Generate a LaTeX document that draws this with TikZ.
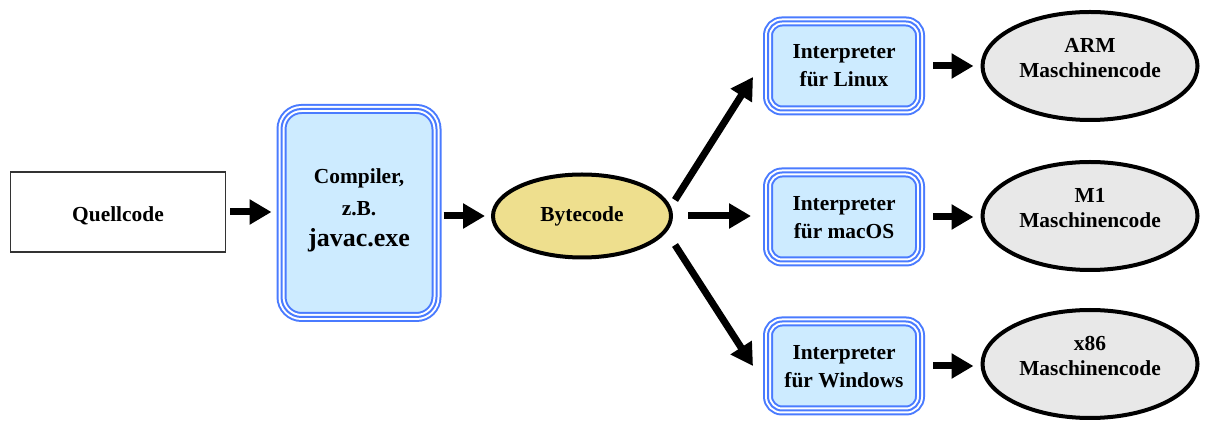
\documentclass[tikz,border=0pt]{standalone}
\usepackage{fontspec}
\setmainfont{Liberation Serif}
\usetikzlibrary{arrows.meta}
\usetikzlibrary{shapes.geometric}

\definecolor{hellblau}{HTML}{CDEBFF}
\definecolor{randblau}{HTML}{4A7BFF}
\definecolor{sandgelb}{HTML}{EEDF8E}
\definecolor{hellgrau}{HTML}{E8E8E8}

\begin{document}
\begin{tikzpicture}[%
x=.5pt, y=-.5pt,
font=\fontsize{10.7}{12.5}\selectfont\bfseries,
quelle/.style={draw=black!80, line width=.7pt, text height=11pt, minimum width=107.5pt, minimum height=40pt},
kasten/.style={align=center, inner sep=0pt,
  preaction={fill=hellblau, draw=randblau, line width=5pt},
  preaction={draw=white, line width=3pt},
  draw=randblau, line width=1pt},
compiler/.style={kasten, rounded corners=10pt, minimum width=77.5pt, minimum height=104pt},
interpreter/.style={kasten, rounded corners=7pt, text depth=0pt, minimum width=76pt, minimum height=44.5pt},
bytecode/.style={ellipse, draw=black, line width=2pt, fill=sandgelb, inner sep=0pt,
  minimum width=89pt, minimum height=41.5pt},
maschine/.style={ellipse, draw=black, line width=2pt, fill=hellgrau, inner sep=0pt, align=center,
  text depth=8pt, minimum width=107.5pt, minimum height=54pt},
pfeil/.style={-{Triangle[length=11pt,width=12pt]}, line width=3.5pt},
]

\useasboundingbox (0,0) rectangle (1208,421);

% Quelle und Compiler
\node[quelle](quellcode) at (118,212){Quellcode};
\node[compiler, text depth=5pt](javac) at (359,213){Compiler,\\[3.5pt] z.B.\\[3pt] {\fontsize{13}{15}\selectfont javac.exe}};
\node[bytecode](bc) at (582,216){Bytecode};

% Interpreter
\node[interpreter](linux)   at (844,66) {Interpreter\\[1.5pt] für Linux};
\node[interpreter](macos)   at (844,217){Interpreter\\[1.5pt] für macOS};
\node[interpreter](windows) at (844,366){Interpreter\\[1.5pt] für Windows};

% Maschinencode
\node[maschine](arm) at (1090,66) {ARM\\ Maschinencode};
\node[maschine](m1)  at (1090,216){M1\\ Maschinencode};
\node[maschine](x86) at (1090,364){x86\\ Maschinencode};

\draw[pfeil, shorten <=2pt, shorten >=4.5pt] (quellcode.east) -- (quellcode.east -| javac.west);
\draw[pfeil, shorten <=3pt, shorten >=3pt] (javac.east |- bc.west) -- (bc.west);

\draw[pfeil] ([xshift=1pt,yshift=8pt]bc.east) -- ([xshift=-7pt,yshift=-5.5pt]linux.west);
\draw[pfeil, shorten <=7.5pt, shorten >=8pt] (bc.east) -- (bc.east -| macos.west);
\draw[pfeil] ([xshift=1pt,yshift=-14.5pt]bc.east) -- ([xshift=-7pt]windows.west);

\draw[pfeil, shorten <=6pt, shorten >=3.5pt] (linux.east)   -- (linux.east -| arm.west);
\draw[pfeil, shorten <=6pt, shorten >=3.5pt] (macos.east)   -- (macos.east -| m1.west);
\draw[pfeil, shorten <=6pt, shorten >=3.5pt] (windows.east) -- (windows.east -| x86.west);

\end{tikzpicture}
\end{document}
